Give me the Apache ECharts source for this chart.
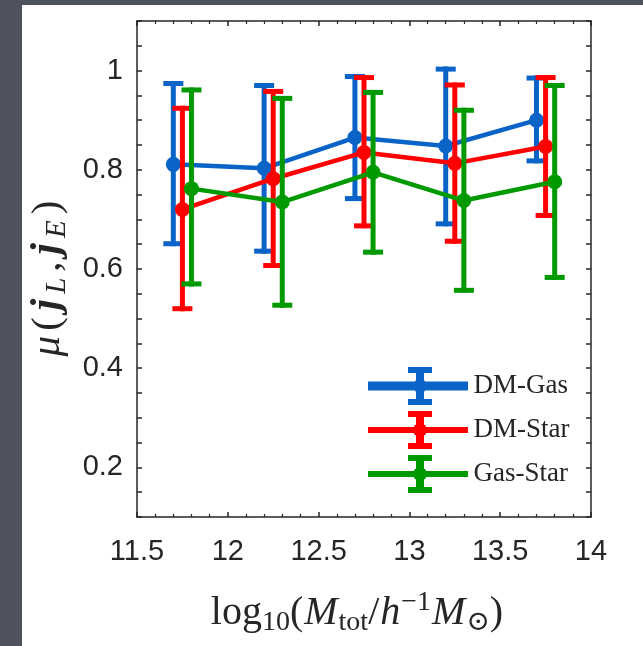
<!DOCTYPE html>
<html>
<head>
<meta charset="utf-8">
<script src="https://cdn.jsdelivr.net/npm/echarts@6/dist/echarts.min.js"></script>
<style>
  html, body { margin: 0; padding: 0; }
  body { width: 643px; height: 646px; background: #4d525d; position: relative; overflow: hidden; }
  #panel { position: absolute; left: 22px; top: 5px; width: 621px; height: 641px; background: #ffffff; }
  #chart { position: absolute; left: 0; top: 0; width: 643px; height: 646px; }
</style>
</head>
<body>
<div id="panel"></div>
<div id="chart"></div>
<script>
// ---- data ----
const seriesNames = ['DM-Gas', 'DM-Star', 'Gas-Star'];
const blueX  = [11.7, 12.2, 12.7, 13.2, 13.7];
const redX   = [11.75, 12.25, 12.75, 13.25, 13.75];
const greenX = [11.8, 12.3, 12.8, 13.3, 13.8];

const blueMean = [0.811, 0.803, 0.865, 0.848, 0.900];
const blueLow  = [0.651, 0.636, 0.742, 0.691, 0.818];
const blueHigh = [0.974, 0.970, 0.988, 1.003, 0.985];

const redMean = [0.720, 0.782, 0.835, 0.813, 0.847];
const redLow  = [0.520, 0.607, 0.687, 0.656, 0.708];
const redHigh = [0.924, 0.958, 0.986, 0.971, 0.986];

const greenMean = [0.762, 0.735, 0.795, 0.738, 0.776];
const greenLow  = [0.570, 0.527, 0.634, 0.557, 0.583];
const greenHigh = [0.961, 0.944, 0.956, 0.920, 0.970];

const xTickLabels = ['11.5', '12', '12.5', '13', '13.5', '14'];
const yTickLabels = ['0.2', '0.4', '0.6', '0.8', '1'];

const colors = ['#0a64c8', '#ff0000', '#009a00'];

// ---- build ----
const groups = [
  { x: blueX, m: blueMean, lo: blueLow, hi: blueHigh },
  { x: redX, m: redMean, lo: redLow, hi: redHigh },
  { x: greenX, m: greenMean, lo: greenLow, hi: greenHigh }
];

function errRender(color) {
  return function (params, api) {
    const x = api.value(0), lo = api.value(1), hi = api.value(2);
    const pLo = api.coord([x, lo]);
    const pHi = api.coord([x, hi]);
    const hw = 10;
    const st = { stroke: color, lineWidth: 5, lineCap: 'butt' };
    return {
      type: 'group',
      children: [
        { type: 'line', shape: { x1: pLo[0], y1: pLo[1] + 2.5, x2: pHi[0], y2: pHi[1] - 2.5 }, style: st },
        { type: 'line', shape: { x1: pHi[0] - hw, y1: pHi[1], x2: pHi[0] + hw, y2: pHi[1] }, style: st },
        { type: 'line', shape: { x1: pLo[0] - hw, y1: pLo[1], x2: pLo[0] + hw, y2: pLo[1] }, style: st }
      ]
    };
  };
}

const series = [];
groups.forEach(function (g, i) {
  series.push({
    name: seriesNames[i] + ' err',
    type: 'custom',
    renderItem: errRender(colors[i]),
    data: g.x.map(function (x, k) { return [x, g.lo[k], g.hi[k]]; }),
    encode: { x: 0, y: [1, 2] },
    silent: true,
    z: 2 + i * 2
  });
  series.push({
    name: seriesNames[i],
    type: 'line',
    data: g.x.map(function (x, k) { return [x, g.m[k]]; }),
    symbol: 'circle',
    symbolSize: 15,
    showSymbol: true,
    lineStyle: { color: colors[i], width: 4.5 },
    itemStyle: { color: colors[i] },
    z: 3 + i * 2,
    silent: true,
    animation: false
  });
});

function legendPath(lineHalf) {
  const c = 52, cy = 19;
  const top = cy - lineHalf, bot = cy + lineHalf;
  return 'path://' +
    'M0,' + top + ' H100 V' + bot + ' H0 Z ' +
    'M' + (c - 4) + ',0 H' + (c + 4) + ' V38 H' + (c - 4) + ' Z ' +
    'M' + (c - 12) + ',0 H' + (c + 12) + ' V6 H' + (c - 12) + ' Z ' +
    'M' + (c - 12) + ',32 H' + (c + 12) + ' V38 H' + (c - 12) + ' Z ' +
    'M' + (c - 7) + ',' + cy + ' A7,7 0 1,1 ' + (c + 7) + ',' + cy + ' A7,7 0 1,1 ' + (c - 7) + ',' + cy + ' Z';
}

const axisColor = '#262626';
const tickFont = { fontFamily: 'Liberation Sans, Arial, sans-serif', fontSize: 29, color: axisColor };
const mathFont = 'Liberation Serif, DejaVu Serif, serif';

const chart = echarts.init(document.getElementById('chart'), null, { renderer: 'canvas' });
chart.setOption({
  backgroundColor: 'transparent',
  animation: false,
  grid: { left: 137, right: 52, top: 21, bottom: 129 },
  legend: {
    orient: 'vertical',
    left: 363,
    top: 362,
    itemWidth: 101,
    itemHeight: 38,
    itemGap: 6,
    selectedMode: false,
    textStyle: { fontFamily: mathFont, fontSize: 27, color: axisColor },
    data: seriesNames.map(function (n, i) {
      return { name: n, icon: legendPath(i === 0 ? 4.5 : 3), itemStyle: { color: colors[i], borderWidth: 0 } };
    })
  },
  xAxis: [
    {
      type: 'value', min: 11.5, max: 14, interval: 0.5, position: 'bottom',
      axisLine: { show: true, lineStyle: { color: axisColor, width: 1.5 } },
      axisTick: { show: true, inside: true, length: 5, lineStyle: { color: axisColor, width: 1.5 } },
      minorTick: { show: true, splitNumber: 5, length: 3, lineStyle: { color: axisColor, width: 1.2 } },
      splitLine: { show: false },
      axisLabel: Object.assign({ margin: 20, formatter: function (v) {
        const i = Math.round((v - 11.5) / 0.5); return xTickLabels[i] || '';
      } }, tickFont),
      name: '{r|log}{s|10}{r|(}{i|M}{s|tot}{r|/}{i|h}{p|−1}{i|M}{s|⊙}{r|)}',
      nameLocation: 'middle',
      nameGap: 72,
      nameTextStyle: {
        padding: [0, 14, 0, 0],
        rich: {
          r: { fontFamily: mathFont, fontSize: 40, lineHeight: 48, color: axisColor },
          i: { fontFamily: mathFont, fontSize: 40, lineHeight: 48, fontStyle: 'italic', color: axisColor, padding: [0, 1] },
          s: { fontFamily: mathFont, fontSize: 28, lineHeight: 28, verticalAlign: 'bottom', color: axisColor },
          p: { fontFamily: mathFont, fontSize: 28, lineHeight: 31, verticalAlign: 'top', color: axisColor }
        }
      }
    },
    {
      type: 'value', min: 11.5, max: 14, interval: 0.5, position: 'top',
      axisLine: { show: true, lineStyle: { color: axisColor, width: 1.5 } },
      axisTick: { show: true, inside: true, length: 5, lineStyle: { color: axisColor, width: 1.5 } },
      minorTick: { show: true, splitNumber: 5, length: 3, lineStyle: { color: axisColor, width: 1.2 } },
      splitLine: { show: false },
      axisLabel: { show: false }
    }
  ],
  yAxis: [
    {
      type: 'value', min: 0.1, max: 1.1, interval: 0.05, position: 'left',
      axisLine: { show: true, lineStyle: { color: axisColor, width: 1.5 } },
      axisTick: { show: true, inside: true, length: 5, lineStyle: { color: axisColor, width: 1.5 } },
      splitLine: { show: false },
      axisLabel: Object.assign({ margin: 14, formatter: function (v) {
        const k = Math.round(v * 100);
        if (k % 20 !== 0) return '';
        const idx = k / 20 - 1;
        return yTickLabels[idx] || '';
      } }, tickFont),
      name: '{i|μ}{r|(}{j|j}{s|L}{r|,}{j|j}{s|E}{r|)}',
      nameLocation: 'middle',
      nameRotate: 90,
      nameGap: 64,
      nameTextStyle: {
        padding: [0, 18, 0, 0],
        rich: {
          r: { fontFamily: mathFont, fontSize: 41, lineHeight: 48, color: axisColor, padding: [0, 3] },
          i: { fontFamily: mathFont, fontSize: 41, lineHeight: 48, fontStyle: 'italic', color: axisColor, padding: [0, 2] },
          j: { fontFamily: mathFont, fontSize: 41, lineHeight: 48, fontStyle: 'italic', fontWeight: 'bold', color: axisColor, padding: [0, 4] },
          s: { fontFamily: mathFont, fontSize: 29, lineHeight: 29, fontStyle: 'italic', verticalAlign: 'bottom', color: axisColor, padding: [0, 3, 0, 1] }
        }
      }
    },
    {
      type: 'value', min: 0.1, max: 1.1, interval: 0.05, position: 'right',
      axisLine: { show: true, lineStyle: { color: axisColor, width: 1.5 } },
      axisTick: { show: true, inside: true, length: 5, lineStyle: { color: axisColor, width: 1.5 } },
      splitLine: { show: false },
      axisLabel: { show: false }
    }
  ],
  series: series
});
</script>
</body>
</html>
